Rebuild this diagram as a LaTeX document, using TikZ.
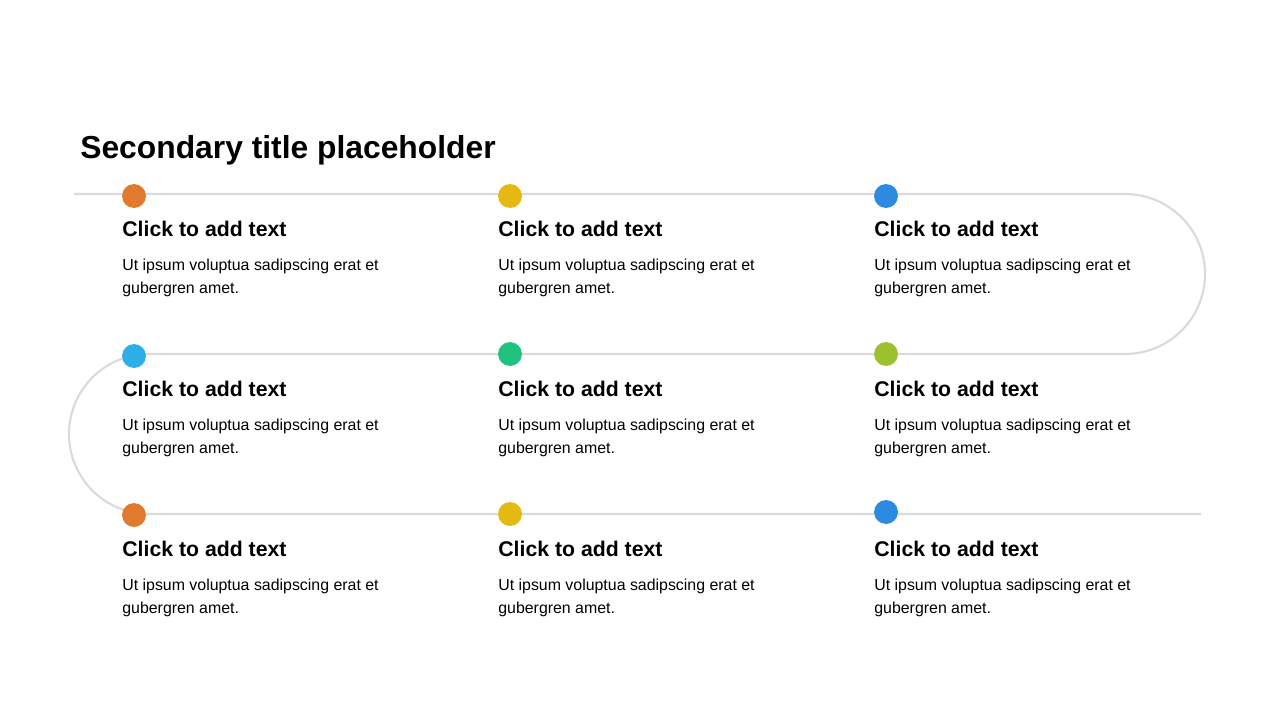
\documentclass[tikz,border=0pt]{standalone}
\usepackage{fontspec}
\setmainfont{Liberation Sans}
\usetikzlibrary{positioning}

\definecolor{dotorange}{HTML}{E07A2E}
\definecolor{dotyellow}{HTML}{E3B912}
\definecolor{dotblue}{HTML}{2C8BE0}
\definecolor{dotsky}{HTML}{2EAEE8}
\definecolor{dotgreen}{HTML}{1FC27E}
\definecolor{dotlime}{HTML}{9DC12E}
\definecolor{trackgray}{HTML}{DADADA}

\begin{document}
\begin{tikzpicture}[
            x = 0.02cm,
            y = -0.02cm,
            dot/.style = {
                circle,
                fill = #1,
                minimum size = 13.6pt,
                inner sep = 0pt,
                outer sep = 0pt
            },
            dot/.default = dotorange,
            track/.style = {
                draw = trackgray,
                line width = 1.2pt
            },
            heading/.style = {
                font = \fontsize{12.1}{14}\selectfont\bfseries,
                anchor = west,
                inner sep = 0pt
            },
            body/.style = {
                font = \fontsize{9.05}{13}\selectfont,
                anchor = north west,
                align = left,
                inner sep = 0pt
            },
            node distance = {9mm}
            ]
            \useasboundingbox (0,0) rectangle (1280,720);

            \node[font=\fontsize{18.1}{21}\selectfont\bfseries, anchor=west, inner sep=0pt] (title) at (80,150) {Secondary title placeholder};

            % the winding track
            \coordinate (start) at (74,194);
            \coordinate (finish) at (1201,514);
            \draw[track] (start) -- (1125,194) arc[start angle=-90, end angle=90, radius=80]
                -- (149,354) arc[start angle=-90, end angle=-270, radius=80] -- (finish);

            % dots
            \node[dot=dotorange] (d11) at (134,196) {};
            \node[dot=dotyellow] (d12) at (510,196) {};
            \node[dot=dotblue] (d13) at (886,196) {};
            \node[dot=dotsky] (d21) at (134,356) {};
            \node[dot=dotgreen] (d22) at (510,354) {};
            \node[dot=dotlime] (d23) at (886,354) {};
            \node[dot=dotorange] (d31) at (134,515) {};
            \node[dot=dotyellow] (d32) at (510,514) {};
            \node[dot=dotblue] (d33) at (886,512) {};

            % texts
            \foreach \r/\yy in {1/229, 2/389, 3/549}{
                \foreach \c/\xx in {1/122, 2/498, 3/874}{
                    \node[heading] (h\r\c) at (\xx,\yy) {Click to add text};
                    \node[body] (b\r\c) at (\xx,\yy+30) {Ut ipsum voluptua sadipscing erat et\\gubergren amet.};
                }
            }
        \end{tikzpicture}
\end{document}
